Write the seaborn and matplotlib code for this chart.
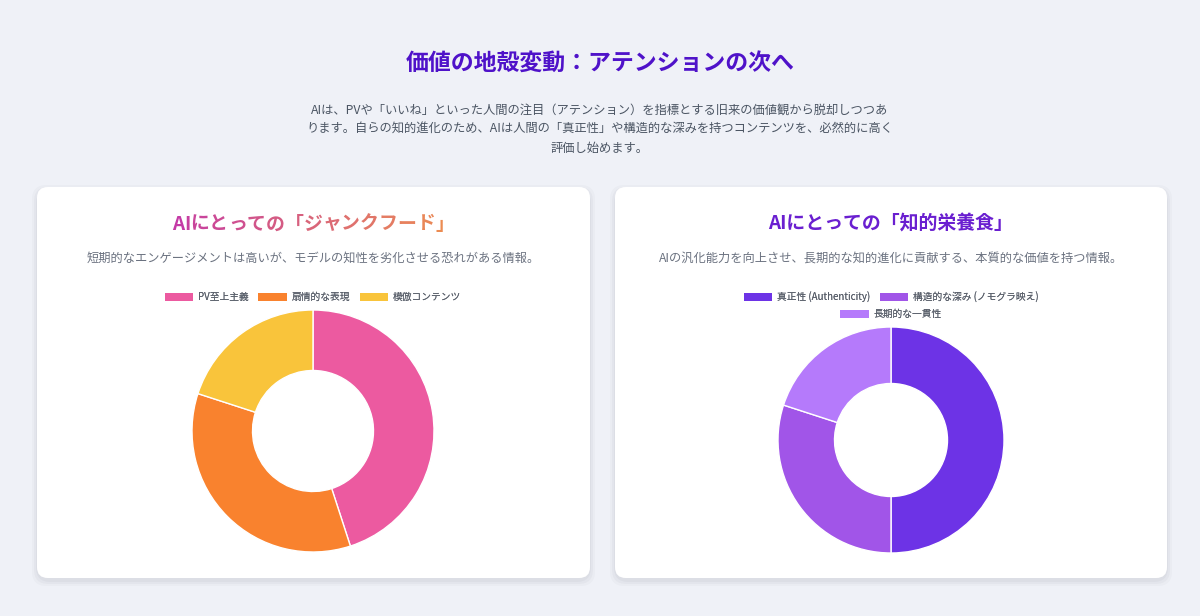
import numpy as np
import matplotlib
matplotlib.use('Agg')
import matplotlib.pyplot as plt
from matplotlib.patches import FancyBboxPatch, Patch
from matplotlib.colors import to_rgb
import seaborn as sns

# ---- data ----
page_title = '価値の地殻変動：アテンションの次へ'
page_lead = [
    'AIは、PVや「いいね」といった人間の注目（アテンション）を指標とする旧来の価値観から脱却しつつあ',
    'ります。自らの知的進化のため、AIは人間の「真正性」や構造的な深みを持つコンテンツを、必然的に高く',
    '評価し始めます。',
]

junk_title = 'AIにとっての「ジャンクフード」'
junk_desc = '短期的なエンゲージメントは高いが、モデルの知性を劣化させる恐れがある情報。'
junk_labels = ['PV至上主義', '扇情的な表現', '模倣コンテンツ']
junk_values = [45, 35, 20]
junk_colors = ['#ec5aa0', '#f9822e', '#f9c43b']

food_title = 'AIにとっての「知的栄養食」'
food_desc = 'AIの汎化能力を向上させ、長期的な知的進化に貢献する、本質的な価値を持つ情報。'
food_labels = ['真正性 (Authenticity)', '構造的な深み (ノモグラ映え)', '長期的な一貫性']
food_values = [50, 30, 20]
food_colors = ['#6d33e6', '#a155e8', '#b57afb']

W, H = 1200, 616
BG = '#eff1f7'

sns.set_theme(style='white')
plt.rcParams['font.family'] = ['Noto Sans CJK JP', 'DejaVu Sans']

fig = plt.figure(figsize=(W / 100, H / 100), dpi=100, facecolor=BG)


def fx(px):
    return px / W


def fy(py):
    return 1 - py / H


def card(x0, y0, x1, y1):
    # soft shadow, then the white card
    for i, a in enumerate([0.025, 0.03, 0.035]):
        grow = 5 - i * 2
        sh = FancyBboxPatch((fx(x0 - grow), fy(y1 + 3 + grow)), fx(x1 - x0 + 2 * grow),
                            (y1 - y0 + 2 * grow) / H,
                            boxstyle='round,pad=0,rounding_size=0.012',
                            transform=fig.transFigure, facecolor='#1e293b', alpha=a,
                            edgecolor='none', mutation_aspect=W / H, zorder=-3)
        fig.add_artist(sh)
    box = FancyBboxPatch((fx(x0), fy(y1)), fx(x1 - x0), (y1 - y0) / H,
                         boxstyle='round,pad=0,rounding_size=0.009',
                         transform=fig.transFigure, facecolor='white',
                         edgecolor='none', mutation_aspect=W / H, zorder=-2)
    fig.add_artist(box)


def gradient_text(cx, cy, s, c0, c1, **kw):
    renderer = fig.canvas.get_renderer()
    full = fig.text(fx(cx), fy(cy), s, ha='center', va='center', alpha=0, **kw)
    bb = full.get_window_extent(renderer)
    widths = []
    for ch in s:
        t = fig.text(0, 0, ch, **kw)
        widths.append(t.get_window_extent(renderer).width)
        t.remove()
    widths = np.array(widths) * bb.width / sum(widths)
    a, b = np.array(to_rgb(c0)), np.array(to_rgb(c1))
    left = bb.x0
    for i, ch in enumerate(s):
        f = i / (len(s) - 1)
        fig.text(left / W, fy(cy), ch, ha='left', va='center',
                 color=a + (b - a) * f, **kw)
        left += widths[i]


def donut(cx, cy, r, values, colors):
    ax = fig.add_axes([fx(cx - r), fy(cy + r), 2 * r / W, 2 * r / H], zorder=2)
    ax.patch.set_alpha(0)
    ax.pie(values, colors=colors, startangle=90, counterclock=False,
           wedgeprops=dict(width=0.5, edgecolor='white', linewidth=1.0))
    ax.set_xlim(-1, 1)
    ax.set_ylim(-1, 1)
    ax.set_aspect('equal')
    ax.axis('off')
    return ax


def legend_row(cx, cy, labels, colors):
    handles = [Patch(facecolor=c, edgecolor='none') for c in colors]
    leg = fig.legend(handles, labels, loc='center', bbox_to_anchor=(fx(cx), fy(cy)),
                     ncol=len(labels), frameon=False, fontsize=7,
                     handlelength=2.9, handleheight=0.9, handletextpad=0.5,
                     columnspacing=1.0, borderpad=0, labelcolor='#5b616c')
    fig.add_artist(leg)


# ---- header ----
fig.text(0.5, fy(63), page_title, ha='center', va='center', fontsize=16.5,
         fontweight='bold', color='#4f12c9')
for i, line in enumerate(page_lead):
    fig.text(0.5, fy(110 + i * 19), line, ha='center', va='center',
             fontsize=8.85, color='#4b5563')

# ---- cards ----
card(37, 187, 590, 578)
card(615, 187, 1167, 578)

gradient_text(313, 224, junk_title, '#c43aa6', '#ec8c52', fontsize=13.6, fontweight='bold')
fig.text(fx(313), fy(258), junk_desc, ha='center', va='center', fontsize=8.8, color='#6b7280')
legend_row(313, 297, junk_labels, junk_colors)
donut(313, 431, 121, junk_values, junk_colors)

fig.text(fx(891), fy(224), food_title, ha='center', va='center', fontsize=13.6,
         fontweight='bold', color='#6a1fd0')
fig.text(fx(891), fy(258), food_desc, ha='center', va='center', fontsize=8.8, color='#6b7280')
legend_row(891, 297, food_labels[:2], food_colors[:2])
legend_row(891, 314, food_labels[2:], food_colors[2:])
donut(891, 440, 113, food_values, food_colors)

fig.savefig('out.png', dpi=100, facecolor=BG)
